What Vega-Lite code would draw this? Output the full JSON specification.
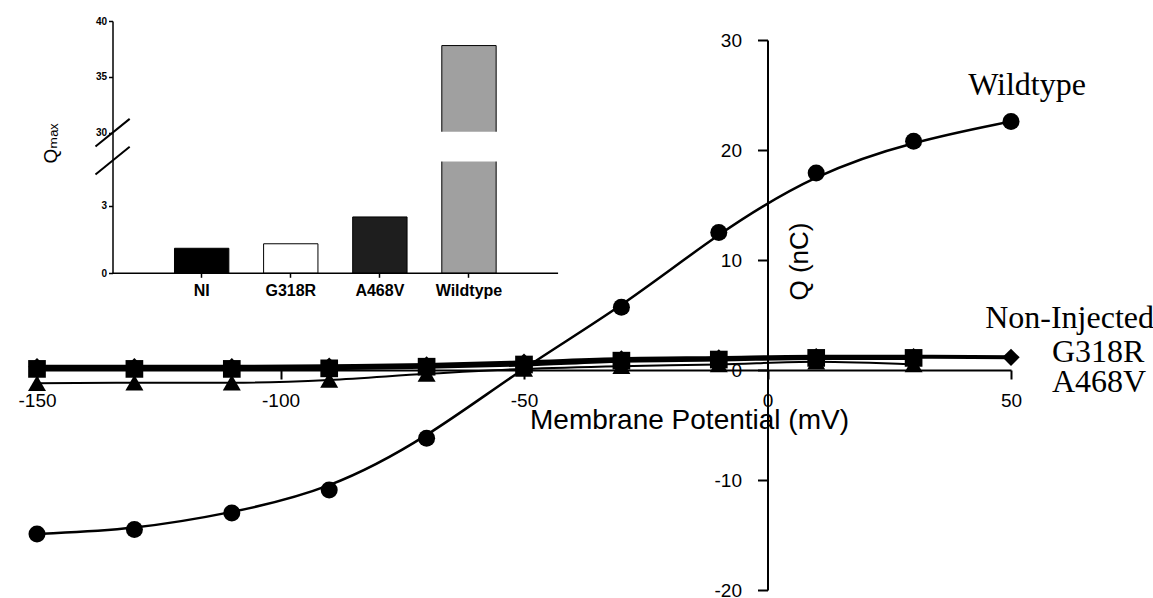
{
  "$schema": "https://vega.github.io/schema/vega-lite/v6.json",
  "width": 974,
  "height": 550,
  "autosize": {"type": "none"},
  "padding": {"left": 37, "top": 40, "right": 142, "bottom": 8},
  "background": "white",
  "config": {"view": {"stroke": null}, "axis": {"grid": false}},
  "datasets": {
    "iv": [
      {"series": "A468V", "mV": -150, "Q": -1.2},
      {"series": "A468V", "mV": -130, "Q": -1.15},
      {"series": "A468V", "mV": -110, "Q": -1.15},
      {"series": "A468V", "mV": -90, "Q": -0.9},
      {"series": "A468V", "mV": -70, "Q": -0.35},
      {"series": "A468V", "mV": -50, "Q": 0.1},
      {"series": "A468V", "mV": -30, "Q": 0.35},
      {"series": "A468V", "mV": -10, "Q": 0.5},
      {"series": "A468V", "mV": 10, "Q": 0.75},
      {"series": "A468V", "mV": 30, "Q": 0.5},
      {"series": "G318R", "mV": -150, "Q": 0.1},
      {"series": "G318R", "mV": -130, "Q": 0.1},
      {"series": "G318R", "mV": -110, "Q": 0.1},
      {"series": "G318R", "mV": -90, "Q": 0.15},
      {"series": "G318R", "mV": -70, "Q": 0.3},
      {"series": "G318R", "mV": -50, "Q": 0.5},
      {"series": "G318R", "mV": -30, "Q": 0.85},
      {"series": "G318R", "mV": -10, "Q": 0.95},
      {"series": "G318R", "mV": 10, "Q": 1.1},
      {"series": "G318R", "mV": 30, "Q": 1.1},
      {"series": "Non-Injected", "mV": -150, "Q": 0.3},
      {"series": "Non-Injected", "mV": -130, "Q": 0.3},
      {"series": "Non-Injected", "mV": -110, "Q": 0.3},
      {"series": "Non-Injected", "mV": -90, "Q": 0.35},
      {"series": "Non-Injected", "mV": -70, "Q": 0.45},
      {"series": "Non-Injected", "mV": -50, "Q": 0.7},
      {"series": "Non-Injected", "mV": -30, "Q": 1.0},
      {"series": "Non-Injected", "mV": -10, "Q": 1.1},
      {"series": "Non-Injected", "mV": 10, "Q": 1.2},
      {"series": "Non-Injected", "mV": 30, "Q": 1.2},
      {"series": "Non-Injected", "mV": 50, "Q": 1.15},
      {"series": "Wildtype", "mV": -150, "Q": -14.9},
      {"series": "Wildtype", "mV": -130, "Q": -14.5},
      {"series": "Wildtype", "mV": -110, "Q": -13.0},
      {"series": "Wildtype", "mV": -90, "Q": -10.9},
      {"series": "Wildtype", "mV": -70, "Q": -6.2},
      {"series": "Wildtype", "mV": -50, "Q": 0.3},
      {"series": "Wildtype", "mV": -30, "Q": 5.7},
      {"series": "Wildtype", "mV": -10, "Q": 12.5},
      {"series": "Wildtype", "mV": 10, "Q": 17.9},
      {"series": "Wildtype", "mV": 30, "Q": 20.8},
      {"series": "Wildtype", "mV": 50, "Q": 22.6}
    ],
    "labels": [
      {"label": "Wildtype", "mV": 41.2, "Q": 25.0},
      {"label": "Non-Injected", "mV": 44.7, "Q": 3.8},
      {"label": "G318R", "mV": 58.4, "Q": 0.75},
      {"label": "A468V", "mV": 58.4, "Q": -1.97}
    ],
    "bars": [
      {"group": "NI", "Qmax": 1.11},
      {"group": "G318R", "Qmax": 1.31},
      {"group": "A468V", "Qmax": 2.5},
      {"group": "Wildtype", "Qmax": 37.8}
    ],
    "gap": [
      {"group": "Wildtype", "lo": 5, "hi": 30}
    ],
    "baseline": [
      {"from": "axis0", "to": "axis5", "Qmax": 0}
    ],
    "breakmarks": [
      {"group": "axis0", "Qmax": 30},
      {"group": "axis0", "Qmax": 5}
    ]
  },
  "layer": [
    {
      "data": {"name": "iv"},
      "encoding": {
        "x": {
          "field": "mV", "type": "quantitative",
          "scale": {"domain": [-150, 50], "nice": false, "zero": false},
          "axis": {
            "orient": "bottom", "offset": -220,
            "values": [-150, -100, -50, 0, 50],
            "labelExpr": "replace(datum.label, '−', '-')",
            "title": "Membrane Potential (mV)",
            "titleFont": "Liberation Sans", "titleFontSize": 28, "titleFontWeight": "normal", "titleColor": "black",
            "titleX": 652, "titleY": 58, "titleAlign": "center", "titleBaseline": "alphabetic",
            "labelFont": "Liberation Sans", "labelFontSize": 19, "labelColor": "black",
            "labelPadding": 12, "labelFlush": false, "labelOverlap": false,
            "tickSize": 9, "tickWidth": 2, "tickColor": "black",
            "domainColor": "black", "domainWidth": 2, "grid": false
          }
        },
        "y": {
          "field": "Q", "type": "quantitative",
          "scale": {"domain": [-20, 30], "nice": false, "zero": false},
          "axis": {
            "orient": "left", "offset": -730.5,
            "values": [-20, -10, 0, 10, 20, 30],
            "labelExpr": "replace(datum.label, '−', '-')",
            "title": "Q (nC)",
            "titleFont": "Liberation Sans", "titleFontSize": 26, "titleFontWeight": "normal", "titleColor": "black",
            "titleAngle": 270, "titleX": 40, "titleY": 221, "titleAlign": "center", "titleBaseline": "alphabetic",
            "labelFont": "Liberation Sans", "labelFontSize": 19, "labelColor": "black",
            "labelPadding": 16, "labelFlush": false, "labelOverlap": false,
            "tickSize": 10, "tickWidth": 2, "tickColor": "black",
            "domainColor": "black", "domainWidth": 2, "grid": false
          }
        }
      },
      "layer": [
        {
          "transform": [{"filter": "datum.series === 'Wildtype'"}],
          "mark": {"type": "line", "interpolate": "basis", "color": "black", "strokeWidth": 2.5}
        },
        {
          "transform": [{"filter": "datum.series === 'A468V'"}],
          "mark": {"type": "line", "interpolate": "monotone", "color": "black", "strokeWidth": 2}
        },
        {
          "transform": [{"filter": "datum.series === 'Non-Injected' || datum.series === 'G318R'"}],
          "mark": {"type": "line", "interpolate": "monotone", "color": "black", "strokeWidth": 4},
          "encoding": {"detail": {"field": "series", "type": "nominal"}}
        },
        {
          "mark": {"type": "point", "filled": true, "opacity": 1, "color": "black"},
          "encoding": {
            "shape": {
              "field": "series", "type": "nominal",
              "scale": {"domain": ["Wildtype", "Non-Injected", "G318R", "A468V"], "range": ["circle", "diamond", "square", "triangle-up"]},
              "legend": null
            },
            "size": {
              "field": "series", "type": "nominal",
              "scale": {"domain": ["Wildtype", "Non-Injected", "G318R", "A468V"], "range": [290, 324, 170, 300]},
              "legend": null
            }
          }
        },
        {
          "data": {"name": "labels"},
          "mark": {"type": "text", "font": "Liberation Serif", "fontSize": 32, "align": "left", "baseline": "alphabetic", "color": "black"},
          "encoding": {"text": {"field": "label", "type": "nominal"}}
        }
      ]
    },
    {
      "data": {"name": "bars"},
      "encoding": {
        "x": {
          "field": "group", "type": "nominal", "sort": null,
          "scale": {
            "domain": ["axis0", "NI", "G318R", "A468V", "Wildtype", "axis5"],
            "range": [48.4, 548.25], "paddingInner": 0.39, "paddingOuter": 0
          },
          "axis": {
            "orient": "bottom", "offset": -316.7,
            "values": ["NI", "G318R", "A468V", "Wildtype"],
            "domain": false, "title": null, "labelAngle": 0,
            "labelFont": "Liberation Sans", "labelFontWeight": "bold", "labelFontSize": 16, "labelColor": "black",
            "labelPadding": 5, "tickSize": 4, "tickWidth": 1.5, "tickColor": "black", "grid": false
          }
        },
        "y": {
          "field": "Qmax", "type": "quantitative",
          "scale": {"type": "linear", "domain": [0, 5, 30, 40], "range": [233.3, 120.6, 92.7, -19], "nice": false, "zero": false},
          "axis": {
            "orient": "left", "offset": -75.5,
            "values": [0, 3, 30, 35, 40],
            "title": "Qₘₐₓ",
            "titleFont": "Liberation Sans, DejaVu Sans, Noto Sans", "titleFontSize": 19, "titleFontWeight": "normal", "titleColor": "black",
            "titleAngle": 270, "titleX": -56.5, "titleY": 103, "titleAlign": "center", "titleBaseline": "alphabetic",
            "labelFont": "Liberation Sans", "labelFontWeight": "bold", "labelFontSize": 10, "labelColor": "black",
            "labelPadding": 2, "labelFlush": false, "labelOverlap": false,
            "tickSize": 4, "tickWidth": 1.5, "tickColor": "black",
            "domainColor": "black", "domainWidth": 1.5, "grid": false
          }
        }
      },
      "layer": [
        {
          "mark": {"type": "bar", "stroke": "black", "strokeWidth": 1},
          "encoding": {
            "fill": {
              "field": "group", "type": "nominal",
              "scale": {"domain": ["NI", "G318R", "A468V", "Wildtype"], "range": ["#000000", "#ffffff", "#1e1e1e", "#a0a0a0"]},
              "legend": null
            }
          }
        },
        {
          "data": {"name": "gap"},
          "mark": {"type": "bar", "fill": "white", "stroke": "white", "strokeWidth": 2},
          "encoding": {
            "y": {"field": "lo", "type": "quantitative"},
            "y2": {"field": "hi"}
          }
        },
        {
          "data": {"name": "baseline"},
          "mark": {"type": "rule", "color": "black", "strokeWidth": 1.5},
          "encoding": {
            "x": {"field": "from", "type": "nominal", "bandPosition": 0.5},
            "x2": {"field": "to", "bandPosition": 0.5}
          }
        },
        {
          "data": {"name": "breakmarks"},
          "mark": {"type": "point", "shape": "stroke", "angle": -39, "size": 1936, "filled": false, "color": "black", "strokeWidth": 2, "opacity": 1}
        }
      ]
    }
  ],
  "resolve": {
    "scale": {"x": "independent", "y": "independent"},
    "axis": {"x": "independent", "y": "independent"}
  }
}
